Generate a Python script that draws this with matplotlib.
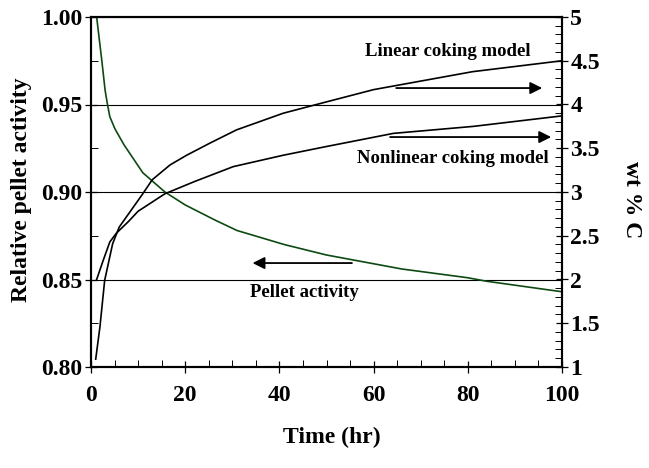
import matplotlib
matplotlib.use("Agg")
import matplotlib.pyplot as plt
from matplotlib.ticker import MultipleLocator, FormatStrFormatter

plt.rcParams['font.family'] = ['Liberation Serif', 'DejaVu Serif']
plt.rcParams['font.weight'] = 'bold'

# Pellet activity (left axis)
t_pellet = [1.2, 2.3, 3.0, 3.5, 4.0, 5.1, 7, 11, 15.7, 20, 26.3, 31, 41, 50, 56, 66, 80, 84, 100]
activity = [1.000, 0.975, 0.958, 0.950, 0.943, 0.936, 0.927, 0.911, 0.900, 0.8926, 0.884,
            0.878, 0.870, 0.864, 0.861, 0.856, 0.851, 0.849, 0.843]

# Linear coking model (right axis, wt % C)
t_linear = [1.0, 1.9, 2.9, 4.6, 6.0, 8.5, 11.0, 13.0, 16.8, 20.3, 25.3, 30.9, 40.8, 50, 60, 81, 100]
wt_linear = [1.09, 1.46, 1.99, 2.41, 2.60, 2.79, 2.98, 3.14, 3.31, 3.42, 3.56, 3.71, 3.90, 4.03,
             4.17, 4.375, 4.50]

# Nonlinear coking model (right axis, wt % C)
t_nonlin = [1.2, 2.6, 4.0, 5.4, 7.9, 10.0, 15.7, 22, 30.2, 40.8, 50, 64.2, 81.2, 100]
wt_nonlin = [2.00, 2.22, 2.43, 2.53, 2.66, 2.78, 2.98, 3.12, 3.29, 3.42, 3.52, 3.67, 3.75, 3.87]

W, H = 649, 468
fig = plt.figure(figsize=(W / 100, H / 100), dpi=100)
ax = fig.add_axes([91 / W, 1 - 367 / H, (562 - 91) / W, (367 - 17) / H])
ax2 = ax.twinx()

green = '#0d4a12'
ax.plot(t_pellet, activity, color=green, lw=1.2, zorder=3)
ax2.plot(t_linear, wt_linear, color='black', lw=1.2)
ax2.plot(t_nonlin, wt_nonlin, color='black', lw=1.2)

ax.set_xlim(0, 100)
ax.set_ylim(0.80, 1.00)
ax2.set_ylim(1, 5)

ax.xaxis.set_major_locator(MultipleLocator(20))
ax.xaxis.set_minor_locator(MultipleLocator(5))
ax.yaxis.set_major_locator(MultipleLocator(0.05))
ax.yaxis.set_minor_locator(MultipleLocator(0.025))
ax.yaxis.set_major_formatter(FormatStrFormatter('%.2f'))
ax2.yaxis.set_minor_locator(MultipleLocator(0.1))
ax2.set_yticks([1, 1.5, 2, 2.5, 3, 3.5, 4, 4.5, 5])
ax2.set_yticklabels(['1', '1.5', '2', '2.5', '3', '3.5', '4', '4.5', '5'])

ax.yaxis.grid(True, which='major', color='black', lw=0.8)
ax.set_axisbelow(True)

for a in (ax, ax2):
    for s in a.spines.values():
        s.set_linewidth(1.5)
ax.tick_params(axis='both', which='major', direction='inout', length=8, width=0.9,
               labelsize=17, pad=2)
ax.tick_params(axis='both', which='minor', direction='in', length=5, width=0.7)
ax.tick_params(axis='x', which='major', pad=9)
ax2.tick_params(axis='y', which='major', direction='inout', length=8, width=0.9,
                labelsize=17, pad=2)
ax2.tick_params(axis='y', which='minor', direction='in', length=5, width=0.7)
for lab in ax.get_xticklabels() + ax.get_yticklabels() + ax2.get_yticklabels():
    lab.set_fontweight('bold')

# Labels
fig.text(22 / W, 1 - 190 / H, 'Relative pellet activity', rotation=90, ha='center', va='center',
         fontsize=17, fontweight='bold')
fig.text(632 / W, 1 - 200 / H, 'wt % C', rotation=270, ha='center', va='center',
         fontsize=17, fontweight='bold')
fig.text(332 / W, 1 - 437 / H, 'Time (hr)', ha='center', va='center',
         fontsize=17, fontweight='bold')

# Annotations
ax.text(75.8, 0.980, 'Linear coking model', ha='center', va='center', fontsize=13.5, fontweight='bold')
ax.text(76.9, 0.919, 'Nonlinear coking model', ha='center', va='center', fontsize=13.5, fontweight='bold')
ax.text(45.3, 0.8425, 'Pellet activity', ha='center', va='center', fontsize=13.5, fontweight='bold')

arrow = dict(arrowstyle='-|>', color='black', lw=1.3, mutation_scale=18, shrinkA=0, shrinkB=0)
ax.annotate('', xy=(95.8, 0.9594), xytext=(64.8, 0.9594), arrowprops=arrow)
ax.annotate('', xy=(97.7, 0.9314), xytext=(63.5, 0.9314), arrowprops=arrow)
ax.annotate('', xy=(34.3, 0.8594), xytext=(55.4, 0.8594), arrowprops=arrow)

fig.savefig('out.png', dpi=100)
